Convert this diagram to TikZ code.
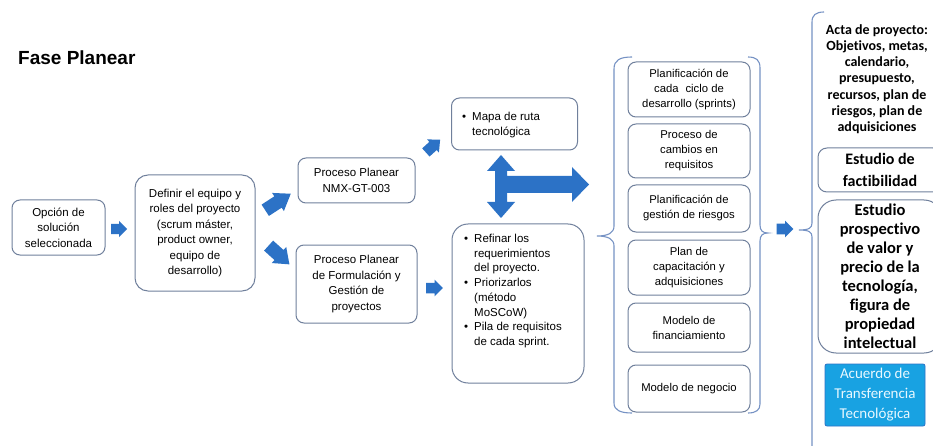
\documentclass[tikz,border=0pt]{standalone}
\usepackage{fontspec}
\setmainfont{Liberation Sans}
\newfontfamily\calib[Ligatures=NoCommon]{Carlito}
\usetikzlibrary{calc}
\definecolor{bordercol}{RGB}{112,128,156}
\definecolor{arrowblue}{RGB}{44,114,198}
\definecolor{bracecol}{RGB}{118,146,196}
\definecolor{acuerdofill}{RGB}{24,162,226}
\definecolor{acuerdotext}{RGB}{232,248,255}
\tikzset{
  box/.style={draw=bordercol, line width=1pt, fill=white, rounded corners=8pt,
    align=center, inner sep=1pt, font=\fontsize{11.5}{15.4}\selectfont},
  colbox/.style={box, minimum width=122pt, font=\fontsize{11.3}{15}\selectfont},
  bracestyle/.style={draw=bracecol, line width=1.1pt},
  barrow/.pic={\fill[arrowblue] (-8,-5) -- (0,-5) -- (0,-8) -- (8,0) -- (0,8) -- (0,5) -- (-8,5) -- cycle;}
}
\newcommand{\bul}{\makebox[10pt][l]{\textbullet}}
\newcommand{\ind}{\hspace*{10pt}}
\begin{document}
\begin{tikzpicture}[x=1pt,y=-1pt]
\useasboundingbox (0,0) rectangle (933,446);
\clip (0,0) rectangle (933,446);
\fill[white] (0,0) rectangle (933,446);

% title
\node[anchor=west, inner sep=0pt, font=\fontsize{19}{22}\selectfont\bfseries] (title) at (18,58) {Fase Planear};

% left boxes
\node[box, minimum width=93pt, minimum height=55pt] (b1) at (58.5,227.5) {Opción de\\solución\\seleccionada};
\node[box, rounded corners=13pt, minimum width=120pt, minimum height=116pt] (b2) at (195,233) {Definir el equipo y\\roles del proyecto\\(scrum máster,\\product owner,\\equipo de\\desarrollo)};
\node[box, minimum width=117pt, minimum height=45pt] (b3) at (356.5,180.5) {Proceso Planear\\NMX-GT-003};
\node[box, minimum width=121pt, minimum height=78pt] (b4) at (356.5,284) {Proceso Planear\\de Formulación y\\Gestión de\\proyectos};

\node[box, minimum width=126pt, minimum height=52pt] (b5) at (514.5,124) {};
\node[anchor=west, align=left, inner sep=0pt, font=\fontsize{11.5}{15.4}\selectfont] (b5t) at (462,125) {\bul Mapa de ruta\\\ind tecnológica};
\node[box, rounded corners=16pt, minimum width=132pt, minimum height=159pt] (b6) at (518,303.5) {};
\node[anchor=west, align=left, inner sep=0pt, font=\fontsize{11.5}{14.7}\selectfont] (b6t) at (464,291) {\bul Refinar los\\\ind requerimientos\\\ind del proyecto.\\\bul Priorizarlos\\\ind (método\\\ind MoSCoW)\\\bul Pila de requisitos\\\ind de cada sprint.};

% block arrows
\coordinate (p1) at (119,229);
\pic[xscale=1.0, yscale=1.0] at (p1) {barrow};
\coordinate (p2) at (278,202);
\pic[rotate=33, xscale=1.9, yscale=1.35] at (p2) {barrow};
\coordinate (p3) at (279,255);
\pic[rotate=-42, xscale=1.75, yscale=1.35] at (p3) {barrow};
\coordinate (p4) at (433,146);
\pic[rotate=42, xscale=1.2, yscale=1.1] at (p4) {barrow};
\coordinate (p5) at (434.5,288);
\pic[xscale=1.05, yscale=1.05] at (p5) {barrow};
\coordinate (p6) at (785,229);
\pic[xscale=1.05, yscale=1.05] at (p6) {barrow};

% big double arrow + right arrow
\fill[arrowblue] (501,155) -- (515,171) -- (507,171) -- (507,176) -- (572,176) -- (572,167) -- (589,184.5)
  -- (572,202) -- (572,193) -- (507,193) -- (507,202) -- (515,202) -- (501,218) -- (487,202) -- (495,202)
  -- (495,171) -- (487,171) -- cycle;

% left brace
\draw[bracestyle] (632,57) .. controls (620,57) and (614,60) .. (614,69) -- (614,226)
  .. controls (614,233) and (608,236) .. (597,236) .. controls (608,236) and (614,239) .. (614,246)
  -- (614,403) .. controls (614,410) and (620,413) .. (632,413);
% right brace (middle column)
\draw[bracestyle] (748,57) .. controls (756,57) and (760,60) .. (760,68) -- (760,225)
  .. controls (760,231) and (763,233) .. (768,233) .. controls (763,233) and (760,235) .. (760,241)
  -- (760,404) .. controls (760,410) and (756,413) .. (748,413);

% middle column
\node[colbox, minimum height=55pt] (c1) at (689,89.5) {Planificación de\\cada\,\, ciclo de\\desarrollo (sprints)};
\node[colbox, minimum height=54pt] (c2) at (689,151) {Proceso de\\cambios en\\requisitos};
\node[colbox, minimum height=47pt] (c3) at (689,208.5) {Planificación de\\gestión de riesgos};
\node[colbox, minimum height=55pt] (c4) at (689,267.5) {Plan de\\capacitación y\\adquisiciones};
\node[colbox, minimum height=49pt] (c5) at (689,327.5) {Modelo de\\financiamiento};
\node[colbox, minimum height=47pt] (c6) at (689,388.5) {Modelo de negocio};

% right brace (last column)
\draw[bracestyle] (824,12) .. controls (816,12) and (812,15) .. (812,22) -- (812,223)
  .. controls (812,228) and (809,230) .. (799,230) .. controls (809,230) and (812,232) .. (812,237)
  -- (812,460);

% right column
\node[align=center, inner sep=0pt, font=\calib\bfseries\fontsize{14}{16.2}\selectfont] (acta) at (877,79) {Acta de proyecto:\\Objetivos, metas,\\calendario,\\presupuesto,\\recursos, plan de\\riesgos, plan de\\adquisiciones};
\node[box, rounded corners=9pt, minimum width=124pt, minimum height=44pt, font=\calib\bfseries\fontsize{16}{22}\selectfont] (r2) at (880,170) {Estudio de\\factibilidad};
\node[box, rounded corners=18pt, minimum width=124pt, minimum height=153pt, font=\calib\bfseries\fontsize{16.5}{19}\selectfont] (r3) at (880,276.5) {Estudio\\prospectivo\\de valor y\\precio de la\\tecnología,\\figura de\\propiedad\\intelectual};
\node[draw=arrowblue, fill=acuerdofill, line width=0.8pt, rounded corners=2pt, minimum width=100pt, minimum height=62pt, align=center, inner sep=1pt, text=acuerdotext, font=\calib\fontsize{15}{20}\selectfont] (r4) at (875,395) {Acuerdo de\\Transferencia\\Tecnológica};
\end{tikzpicture}
\end{document}
